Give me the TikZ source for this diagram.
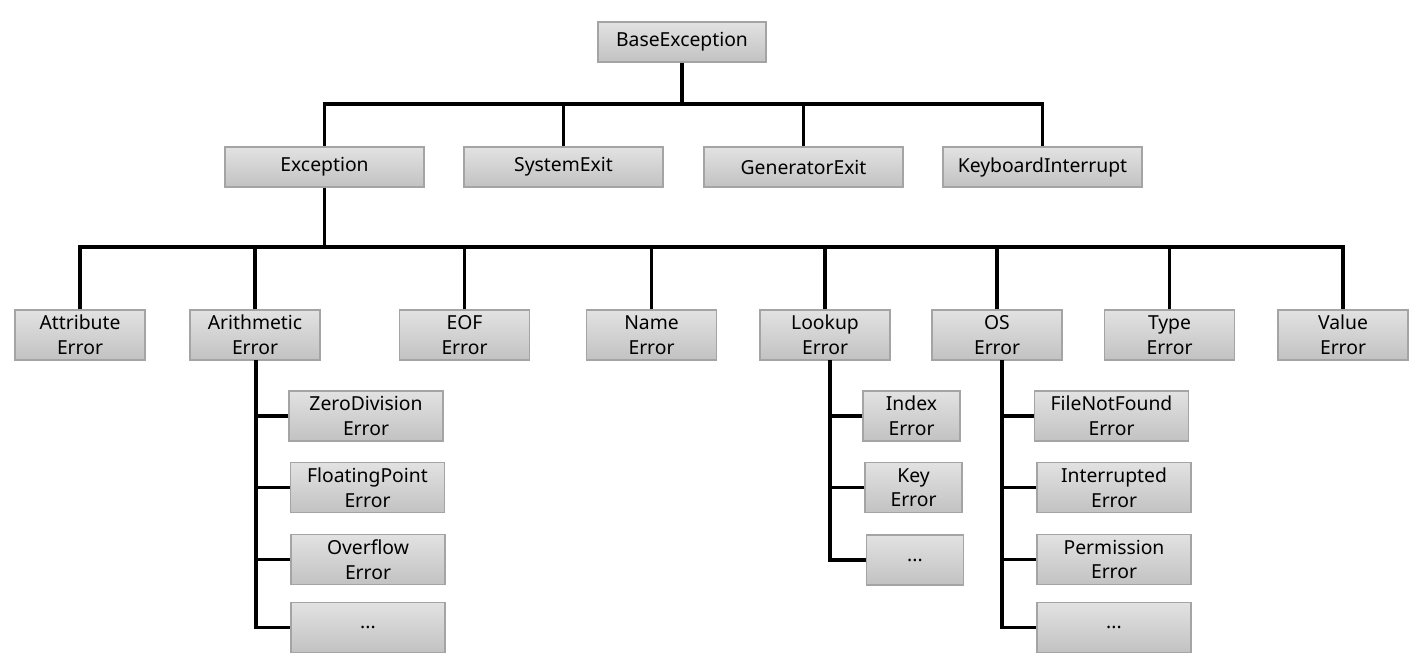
\documentclass[tikz,border=0pt]{standalone}
\usepackage{fontspec}
\setmainfont{Noto Sans}
\definecolor{boxtop}{HTML}{E2E2E2}
\definecolor{boxbot}{HTML}{C2C2C2}
\definecolor{boxline}{HTML}{A4A4A4}
\tikzset{
  cls/.style={draw=boxline, line width=0.8pt, top color=boxtop, bottom color=boxbot,
    align=center, inner sep=0pt, font=\fontsize{11}{14}\selectfont},
  top1/.style={cls, minimum width=3.36cm, minimum height=0.8cm},
  top2/.style={cls, minimum width=3.98cm, minimum height=0.8cm},
  lvl3/.style={cls, minimum width=2.6cm, minimum height=1.0cm},
  subw/.style={cls, minimum width=3.08cm, minimum height=1.0cm},
  subn/.style={cls, minimum width=1.94cm, minimum height=1.0cm},
  wire/.style={line width=1.8pt, black}
}
\begin{document}
\begin{tikzpicture}[x=0.02cm, y=-0.02cm]
\useasboundingbox (0,0) rectangle (1418,662);

% Root and first level
\node[top1] (base) at (682,42) {BaseException};
\node[top2] (exc) at (324.5,167) {Exception};
\node[top2] (sysexit) at (563.5,167) {SystemExit};
\node[top2] (genexit) at (803.5,167) {GeneratorExit};
\node[top2] (kbint) at (1042.5,167) {KeyboardInterrupt};

% Second level
\node[lvl3] (attr) at (80,335) {Attribute\\Error};
\node[lvl3] (arith) at (255,335) {Arithmetic\\Error};
\node[lvl3] (eof) at (464.5,335) {EOF\\Error};
\node[lvl3] (name) at (651.5,335) {Name\\Error};
\node[lvl3] (lookup) at (825,335) {Lookup\\Error};
\node[lvl3] (oserr) at (997,335) {OS\\Error};
\node[lvl3] (type) at (1169.5,335) {Type\\Error};
\node[lvl3] (value) at (1343,335) {Value\\Error};

% Arithmetic children
\node[subw] (zerodiv) at (366,416) {ZeroDivision\\Error};
\node[subw] (floatpt) at (367.5,487.5) {FloatingPoint\\Error};
\node[subw] (overflow) at (368,559.5) {Overflow\\Error};
\node[subw] (arithmore) at (368,627.5) {...};

% Lookup children
\node[subn] (index) at (911.5,416) {Index\\Error};
\node[subn] (key) at (913.5,487.5) {Key\\Error};
\node[subn] (lookmore) at (915,560) {...};

% OS children
\node[subw] (filenf) at (1111.5,416) {FileNotFound\\Error};
\node[subw] (interr) at (1114,487.5) {Interrupted\\Error};
\node[subw] (perm) at (1114,559.5) {Permission\\Error};
\node[subw] (osmore) at (1114,627.5) {...};

% Buses
\coordinate (bus1) at (682,104);
\coordinate (bus2) at (324.5,247);
\coordinate (arithT) at (256,360);
\coordinate (lookT) at (830,360);
\coordinate (osT) at (1002,360);

% Root to first level
\draw[wire] (base.south) -- (bus1);
\draw[wire] (exc.north) |- (bus1) -| (kbint.north);
\foreach \n in {sysexit,genexit}
  \draw[wire] (\n.north) -- (\n.north |- bus1);

% Exception to second level
\draw[wire] (exc.south) -- (bus2);
\draw[wire] (attr.north) |- (bus2) -| (value.north);
\foreach \n in {arith,eof,name,lookup,oserr,type}
  \draw[wire] (\n.north) -- (\n.north |- bus2);

% Trunks to children
\draw[wire] (arithT) |- (arithmore.west);
\foreach \n in {zerodiv,floatpt,overflow}
  \draw[wire] (\n.west) -- (\n.west -| arithT);
\draw[wire] (lookT) |- (lookmore.west);
\foreach \n in {index,key}
  \draw[wire] (\n.west) -- (\n.west -| lookT);
\draw[wire] (osT) |- (osmore.west);
\foreach \n in {filenf,interr,perm}
  \draw[wire] (\n.west) -- (\n.west -| osT);
\end{tikzpicture}
\end{document}
